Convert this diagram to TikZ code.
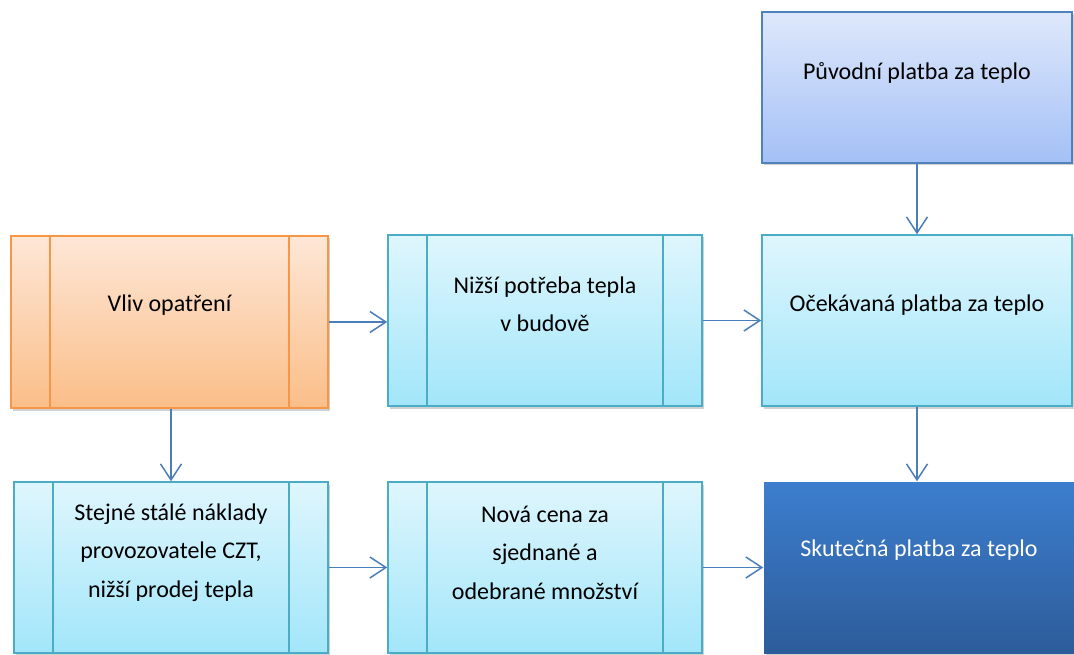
\documentclass[tikz,border=0pt]{standalone}
\usepackage{fontspec}
\setmainfont{Carlito}
\usetikzlibrary{arrows.meta,shadows}

\definecolor{aquaTop}{HTML}{DFF6FD}
\definecolor{aquaBot}{HTML}{A2E6FA}
\definecolor{aquaLine}{HTML}{4BACC6}
\definecolor{orTop}{HTML}{FDE7D7}
\definecolor{orBot}{HTML}{FBBE88}
\definecolor{orLine}{HTML}{F79646}
\definecolor{puvTop}{HTML}{DEE8FB}
\definecolor{puvBot}{HTML}{A4C0F6}
\definecolor{puvLine}{HTML}{4F81BD}
\definecolor{skTop}{HTML}{3C7ECE}
\definecolor{skBot}{HTML}{2D5C9A}
\definecolor{arrowCol}{HTML}{4A7EBB}

\tikzset{
  box/.style={rectangle, inner sep=0pt, line width=1.5pt,
    drop shadow={shadow xshift=2pt, shadow yshift=-2.5pt, opacity=0.3, fill=black!60}},
  aquabox/.style={box, draw=aquaLine, top color=aquaTop, bottom color=aquaBot},
  orbox/.style={box, draw=orLine, top color=orTop, bottom color=orBot},
  puvbox/.style={box, draw=puvLine, top color=puvTop, bottom color=puvBot},
  skbox/.style={box, draw=none, top color=skTop, bottom color=skBot},
  txt/.style={align=center, inner sep=0pt, font=\fontsize{24pt}{38.5pt}\selectfont, text=black},
  flow/.style={draw=arrowCol, line width=1.5pt,
    -{Straight Barb[length=16pt,width=21pt,line width=1.5pt]}}
}

\begin{document}
\begin{tikzpicture}[x=1pt,y=-1pt]
\useasboundingbox (0,0) rectangle (1074,655);

% boxes
\node[puvbox, minimum width=310pt, minimum height=151pt] (puv)  at (917,87.5) {};
\node[orbox,  minimum width=317pt, minimum height=172pt] (vliv) at (169.5,322) {};
\node[aquabox,minimum width=314pt, minimum height=171pt] (niz)  at (545,320.5) {};
\node[aquabox,minimum width=310pt, minimum height=171pt] (oc)   at (917,320.5) {};
\node[aquabox,minimum width=314pt, minimum height=171pt] (stej) at (171,567.5) {};
\node[aquabox,minimum width=314pt, minimum height=171pt] (nova) at (545,567.5) {};
\node[skbox,  minimum width=310pt, minimum height=171pt] (skut) at (919,567.5) {};

% side bars of the process boxes
\foreach \b/\c in {vliv/orLine, niz/aquaLine, stej/aquaLine, nova/aquaLine}{
  \draw[\c, line width=1.6pt] ([xshift=39.5pt]\b.north west) -- ([xshift=39.5pt]\b.south west);
  \draw[\c, line width=1.6pt] ([xshift=-39.5pt]\b.north east) -- ([xshift=-39.5pt]\b.south east);
}

% labels
\node[txt] (puvt)  at ([yshift=15pt]puv.center)  {Původní platba za teplo};
\node[txt] (vlivt) at ([yshift=17pt]vliv.center) {Vliv opatření};
\node[txt] (nizt)  at ([yshift=16pt]niz.center)  {Nižší potřeba tepla\\v budově};
\node[txt] (oct)   at ([yshift=15pt]oc.center)   {Očekávaná platba za teplo};
\node[txt] (stejt) at ([yshift=15pt]stej.center) {Stejné stálé náklady\\provozovatele CZT,\\nižší prodej tepla};
\node[txt] (novat) at ([yshift=15pt]nova.center) {Nová cena za\\sjednané a\\odebrané množství};
\node[txt, text=white] (skutt) at ([yshift=17pt]skut.center) {Skutečná platba za teplo};

% connectors
\draw[flow] (puv.south -| oc.north) -- (oc.north);
\draw[flow] (vliv.east) -- (vliv.east -| niz.west);
\draw[flow] (niz.east) -- (niz.east -| oc.west);
\draw[flow] (vliv.south -| stej.north) -- (stej.north);
\draw[flow] (oc.south) -- (oc.south |- skut.north);
\draw[flow] (stej.east) -- (stej.east -| nova.west);
\draw[flow] (nova.east) -- (nova.east -| skut.west);
\end{tikzpicture}
\end{document}
